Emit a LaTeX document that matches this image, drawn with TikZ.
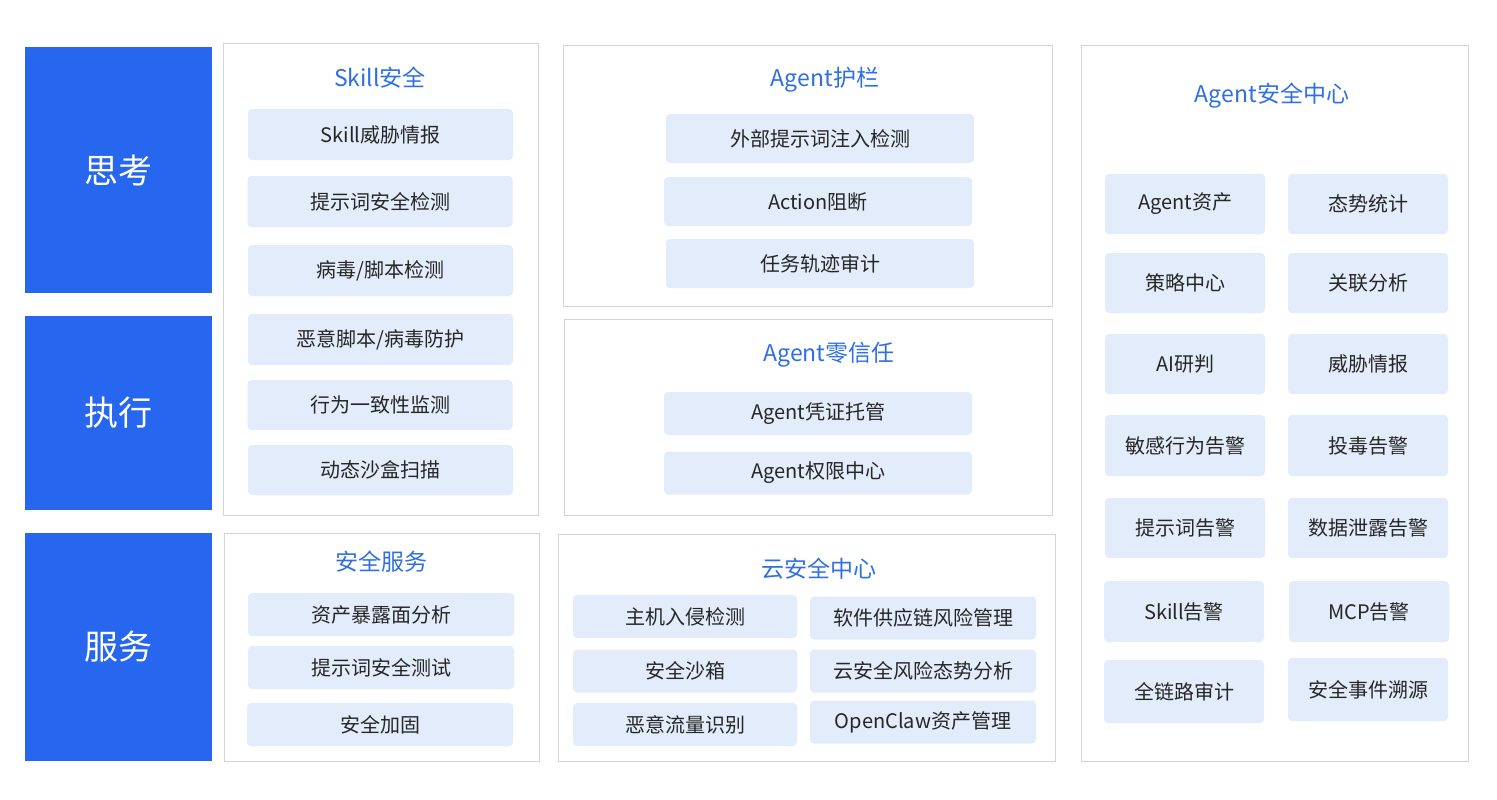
\documentclass[tikz,border=0pt]{standalone}
\usepackage{fontspec}
\setmainfont{Noto Sans CJK SC}
\begin{document}
\begin{tikzpicture}[x=1pt,y=-1pt,
  side/.style={fill=sideblue,draw=none,text=white,font=\fontsize{34}{34}\selectfont,inner sep=0pt},
  panel/.style={draw=panelgray,line width=1pt,fill=white},
  ttl/.style={text=titleblue,font=\fontsize{23}{23}\selectfont,inner sep=0pt},
  item/.style={fill=itemblue,draw=none,rounded corners=4pt,text=black!85,font=\fontsize{20}{20}\selectfont,inner sep=0pt}]
\definecolor{sideblue}{HTML}{2767F0}
\definecolor{panelgray}{HTML}{D0D3D8}
\definecolor{titleblue}{HTML}{2F6FE6}
\definecolor{itemblue}{HTML}{E2ECFB}
\useasboundingbox (0,0) rectangle (1497,800);
\fill[white] (0,0) rectangle (1497,800);
% side
\node[side,minimum width=187pt,minimum height=246pt] (s1) at (118.5,170) {思考};
\node[side,minimum width=187pt,minimum height=194pt] (s2) at (118.5,413) {执行};
\node[side,minimum width=187pt,minimum height=228pt] (s3) at (118.5,647) {服务};
% panels
\draw[panel] (223,44) rectangle (538,515);
\draw[panel] (563,46) rectangle (1052,306);
\draw[panel] (564,319) rectangle (1052,515);
\draw[panel] (224,533) rectangle (539,761);
\draw[panel] (558,534) rectangle (1055,761);
\draw[panel] (1081,46) rectangle (1468,761);
% Skill
\node[ttl] (t1) at (380,78) {Skill安全};
\node[item,minimum width=265pt,minimum height=51pt] (a1) at (380.5,134.5) {Skill威胁情报};
\node[item,minimum width=265pt,minimum height=51pt] (a2) at (380,201.5) {提示词安全检测};
\node[item,minimum width=265pt,minimum height=51pt] (a3) at (380.5,270.5) {病毒/脚本检测};
\node[item,minimum width=265pt,minimum height=51pt] (a4) at (380.5,339.5) {恶意脚本/病毒防护};
\node[item,minimum width=265pt,minimum height=50pt] (a5) at (380,405) {行为一致性监测};
\node[item,minimum width=265pt,minimum height=50pt] (a6) at (380.5,470) {动态沙盒扫描};
% Agent guard
\node[ttl] (t2) at (825,80) {Agent护栏};
\node[item,minimum width=308pt,minimum height=49pt] (b1) at (820,138.5) {外部提示词注入检测};
\node[item,minimum width=308pt,minimum height=49pt] (b2) at (818,201.5) {Action阻断};
\node[item,minimum width=308pt,minimum height=49pt] (b3) at (820,263.5) {任务轨迹审计};
% zero trust
\node[ttl] (t3) at (829,355) {Agent零信任};
\node[item,minimum width=308pt,minimum height=43pt] (c1) at (818,413.5) {Agent凭证托管};
\node[item,minimum width=308pt,minimum height=43pt] (c2) at (818,473) {Agent权限中心};
% service
\node[ttl] (t4) at (381,562) {安全服务};
\node[item,minimum width=266pt,minimum height=43pt] (d1) at (381,614.5) {资产暴露面分析};
\node[item,minimum width=266pt,minimum height=43pt] (d2) at (381,667.5) {提示词安全测试};
\node[item,minimum width=266pt,minimum height=43pt] (d3) at (380,724.5) {安全加固};
% cloud
\node[ttl] (t5) at (819,569) {云安全中心};
\node[item,minimum width=224pt,minimum height=43pt] (e1) at (685,616.5) {主机入侵检测};
\node[item,minimum width=224pt,minimum height=43pt] (e2) at (685,671) {安全沙箱};
\node[item,minimum width=224pt,minimum height=43pt] (e3) at (685,724.5) {恶意流量识别};
\node[item,minimum width=226pt,minimum height=43pt] (f1) at (923,618) {软件供应链风险管理};
\node[item,minimum width=226pt,minimum height=43pt] (f2) at (923,671) {云安全风险态势分析};
\node[item,minimum width=226pt,minimum height=43pt] (f3) at (923,722) {OpenClaw资产管理};
% Agent security center
\node[ttl] (t6) at (1272,96) {Agent安全中心};
\node[item,minimum width=160pt,minimum height=60pt] (g1) at (1185,204) {Agent资产};
\node[item,minimum width=160pt,minimum height=60pt] (h1) at (1368,204) {态势统计};
\node[item,minimum width=160pt,minimum height=60pt] (g2) at (1185,283) {策略中心};
\node[item,minimum width=160pt,minimum height=60pt] (h2) at (1368,283) {关联分析};
\node[item,minimum width=160pt,minimum height=60pt] (g3) at (1185,364) {AI研判};
\node[item,minimum width=160pt,minimum height=60pt] (h3) at (1368,364) {威胁情报};
\node[item,minimum width=160pt,minimum height=61pt] (g4) at (1185,445.5) {敏感行为告警};
\node[item,minimum width=160pt,minimum height=61pt] (h4) at (1368,445.5) {投毒告警};
\node[item,minimum width=160pt,minimum height=60pt] (g5) at (1185,528) {提示词告警};
\node[item,minimum width=160pt,minimum height=60pt] (h5) at (1368,528) {数据泄露告警};
\node[item,minimum width=160pt,minimum height=61pt] (g6) at (1184,611.5) {Skill告警};
\node[item,minimum width=160pt,minimum height=61pt] (h6) at (1369,611.5) {MCP告警};
\node[item,minimum width=160pt,minimum height=63pt] (g7) at (1184,691.5) {全链路审计};
\node[item,minimum width=160pt,minimum height=63pt] (h7) at (1368,689.5) {安全事件溯源};
\end{tikzpicture}
\end{document}
